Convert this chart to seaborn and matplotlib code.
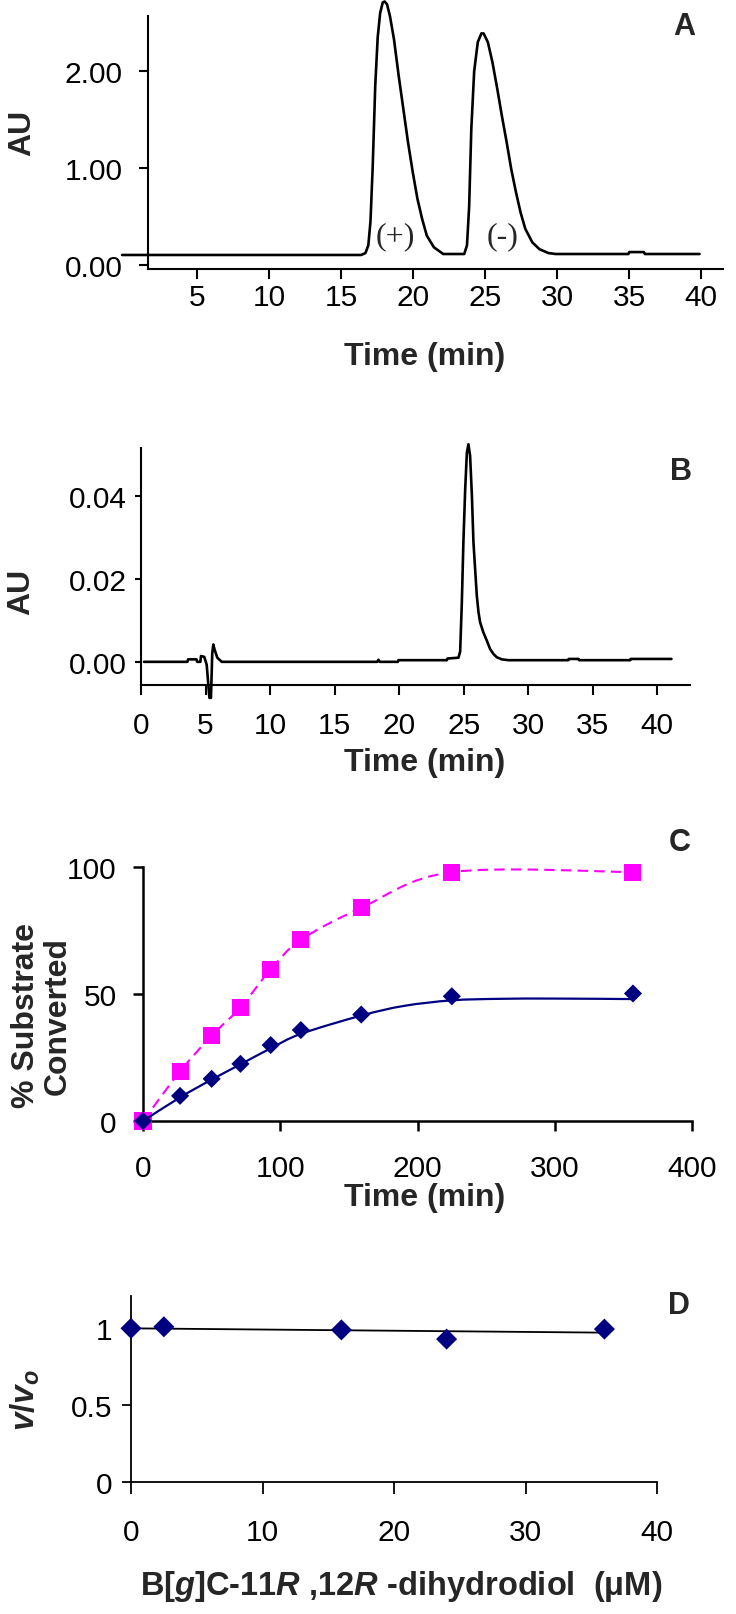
import numpy as np
import matplotlib
matplotlib.use("Agg")
import matplotlib.pyplot as plt
from matplotlib.path import Path
from matplotlib.patches import PathPatch
import seaborn as sns

# ---- panel A: chiral HPLC trace ----
a_time = [-0.2, 16.4, 16.7, 16.9, 17.05, 17.2, 17.38, 17.55, 17.72, 17.9, 18.03, 18.2, 18.4,
          18.68, 19.0, 19.33, 19.65, 19.98, 20.31, 20.64, 20.96, 21.45, 22.1,
          23.56, 23.75, 23.9, 24.05, 24.25, 24.5, 24.75, 24.9, 25.2, 25.52, 25.85, 26.17,
          26.5, 26.82, 27.15, 27.47, 27.8, 28.29, 28.78, 29.4, 29.91,
          34.96, 35.02, 36.03, 36.1, 39.9]
a_au = [0.10, 0.10, 0.12, 0.20, 0.45, 1.00, 1.85, 2.35, 2.60, 2.71, 2.72, 2.69, 2.57,
        2.33, 1.96, 1.61, 1.27, 0.96, 0.68, 0.47, 0.30, 0.18, 0.11,
        0.11, 0.20, 0.60, 1.40, 2.00, 2.30, 2.39, 2.39, 2.30, 2.09, 1.82, 1.54,
        1.27, 0.99, 0.75, 0.54, 0.37, 0.23, 0.16, 0.12, 0.11,
        0.11, 0.13, 0.13, 0.11, 0.11]

# ---- panel B: incubation trace ----
b_time = [0.23, 3.6, 3.65, 4.3, 4.35, 4.6, 4.65, 4.9, 5.09, 5.3, 5.42, 5.52, 5.6, 5.7,
          5.91, 6.26, 18.3, 18.4, 18.5, 19.9, 19.95, 23.7, 23.75,
          24.6, 24.73, 24.86, 24.98, 25.12, 25.25, 25.37, 25.5, 25.64, 25.76, 25.89,
          26.02, 26.15, 26.28, 26.53, 26.8, 27.05, 27.31, 27.57, 27.96, 28.47,
          33.1, 33.15, 33.9, 33.95, 37.9, 37.95, 41.1]
b_au = [0.0, 0.0, 0.0006, 0.0006, 0.0, 0.0, 0.0014, 0.0012, -0.0007, -0.0087, -0.0087,
        0.002, 0.0042, 0.0030, 0.001, 0.0, 0.0, 0.0005, 0.0, 0.0, 0.0004, 0.0004, 0.0008,
        0.0010, 0.0025, 0.0144, 0.0289, 0.0418, 0.0506, 0.0526, 0.0498, 0.0401, 0.0289,
        0.0224, 0.016, 0.012, 0.0095, 0.0071, 0.0051, 0.0031, 0.0019, 0.0011, 0.0006,
        0.0004, 0.0004, 0.0007, 0.0007, 0.0004, 0.0004, 0.0007, 0.0007]

# ---- panel C: time course ----
c_time = [0, 27, 50, 71, 93, 115, 159, 225, 357]
c_square = [0, 19.5, 33.6, 44.7, 59.7, 71.3, 83.9, 98.0, 98.0]
c_diamond = [0, 9.9, 16.6, 22.5, 29.9, 35.8, 41.9, 49.1, 50.2]
c_fit_time = [0, 27, 50, 71, 93, 115, 159, 190, 225, 260, 300, 357]
c_fit_pct = [0, 9.3, 16.3, 22.3, 28.6, 34.3, 41.5, 45.3, 47.5, 48.1, 48.2, 48.0]

# ---- panel D: inhibition ----
d_conc = [0, 2.5, 16, 24, 36]
d_ratio = [1.0, 1.01, 0.99, 0.93, 0.995]
d_fit_conc = [0, 36]
d_fit_ratio = [1.0, 0.972]

sns.set_style("ticks")
plt.rcParams['font.family'] = ['Liberation Sans', 'DejaVu Sans']
plt.rcParams['mathtext.fontset'] = 'custom'
plt.rcParams['mathtext.rm'] = 'Liberation Sans:bold'
plt.rcParams['mathtext.it'] = 'Liberation Sans:italic:bold'
plt.rcParams['mathtext.bf'] = 'Liberation Sans:bold'

W, H = 736, 1615
fig = plt.figure(figsize=(W / 100, H / 100), dpi=100)
fig.patch.set_facecolor('white')

TICK = 21.5
LAB = 23
PANEL = 22


def box(left, top, right, bottom):
    return fig.add_axes([left / W, 1 - bottom / H, (right - left) / W, (bottom - top) / H])


def style(ax, lw=1.5, xpad=6, ypad=10, xlen=7, ylen=6.5):
    ax.set_facecolor('none')
    ax.spines[['top', 'right']].set_visible(False)
    for s in ['left', 'bottom']:
        ax.spines[s].set_linewidth(lw)
        ax.spines[s].set_color('black')
    ax.tick_params(axis='x', length=xlen, width=lw, pad=xpad, labelsize=TICK, colors='black')
    ax.tick_params(axis='y', length=ylen, width=lw, pad=ypad, labelsize=TICK, colors='black')
    ax.set_xlabel('')
    ax.set_ylabel('')


def ftext(x, y, s, **kw):
    fig.text(x / W, 1 - y / H, s, ha='center', va='center', **kw)


def smooth_path(x, y):
    # Excel-style smoothed line through the given points
    pts = np.column_stack([x, y]).astype(float)
    ext = np.vstack([pts[0], pts, pts[-1]])
    verts = [pts[0]]
    codes = [Path.MOVETO]
    for i in range(len(pts) - 1):
        p0, p1, p2, p3 = ext[i], ext[i + 1], ext[i + 2], ext[i + 3]
        verts += [p1 + (p2 - p0) / 6, p2 - (p3 - p1) / 6, p2]
        codes += [Path.CURVE4] * 3
    return Path(verts, codes)


# A
axA = box(148, 17, 722.6, 270)
sns.lineplot(x=a_time, y=a_au, ax=axA, color='black', lw=1.9, sort=False, estimator=None)
for ln in axA.lines:
    ln.set_clip_on(False)
axA.set_xlim(1.6, 41.5)
axA.set_ylim(-0.045, 2.57)
axA.set_xticks([5, 10, 15, 20, 25, 30, 35, 40])
axA.set_yticks([0, 1, 2])
axA.set_yticklabels(['0.00', '1.00', '2.00'])
style(axA, xpad=3, ypad=12)
axA.text(18.8, 0.30, '(+)', family='Liberation Serif', fontsize=23, ha='center', va='center')
axA.text(26.25, 0.30, '(-)', family='Liberation Serif', fontsize=23, ha='center', va='center')
ftext(684, 27, 'A', fontsize=PANEL, fontweight='bold')
ftext(22, 133, 'AU', fontsize=LAB, fontweight='bold', rotation=90)
ftext(425, 357, 'Time (min)', fontsize=LAB, fontweight='bold')

# B
axB = box(141, 449, 689.5, 686)
sns.lineplot(x=b_time, y=b_au, ax=axB, color='black', lw=1.9, sort=False, estimator=None)
for ln in axB.lines:
    ln.set_clip_on(False)
axB.set_xlim(0, 42.5)
axB.set_ylim(-0.0056, 0.0517)
axB.set_xticks([0, 5, 10, 15, 20, 25, 30, 35, 40])
axB.set_yticks([0, 0.02, 0.04])
axB.set_yticklabels(['0.00', '0.02', '0.04'])
style(axB, xpad=12, ypad=6, ylen=4.5)
ftext(681, 472, 'B', fontsize=PANEL, fontweight='bold')
ftext(21, 592, 'AU', fontsize=LAB, fontweight='bold', rotation=90)
ftext(425, 763, 'Time (min)', fontsize=LAB, fontweight='bold')

# C
axC = box(143, 868, 692, 1122)
axC.add_patch(PathPatch(smooth_path(c_time, c_square), fill=False, edgecolor='#FF00FF',
                        lw=1.5, linestyle=(0, (5, 3)), clip_on=False, zorder=2))
sns.scatterplot(x=c_time, y=c_square, ax=axC, marker='s', s=150, color='#FF00FF',
                edgecolor='none', clip_on=False, zorder=3)
axC.add_patch(PathPatch(smooth_path(c_fit_time, c_fit_pct), fill=False, edgecolor='#000080',
                        lw=1.6, clip_on=False, zorder=4))
sns.scatterplot(x=c_time, y=c_diamond, ax=axC, marker='D', s=85, color='#000080',
                edgecolor='none', clip_on=False, zorder=5)
axC.set_xlim(0, 400)
axC.set_ylim(0, 100)
axC.set_xticks([0, 100, 200, 300, 400])
axC.set_yticks([0, 50, 100])
style(axC, lw=1.8, xpad=17, ypad=12, ylen=7)
ftext(680, 843, 'C', fontsize=PANEL, fontweight='bold')
ftext(42, 1016, '% Substrate\nConverted', fontsize=LAB, fontweight='bold', rotation=90,
      linespacing=1.1)
ftext(425, 1198, 'Time (min)', fontsize=LAB, fontweight='bold')

# D
axD = box(131, 1297, 657, 1483.3)
sns.lineplot(x=d_fit_conc, y=d_fit_ratio, ax=axD, color='black', lw=1.3)
sns.scatterplot(x=d_conc, y=d_ratio, ax=axD, marker='D', s=115, color='#000080',
                edgecolor='none', clip_on=False, zorder=5)
axD.set_xlim(0, 40)
axD.set_ylim(0, 1.21)
axD.set_xticks([0, 10, 20, 30, 40])
axD.set_yticks([0, 0.5, 1])
axD.set_yticklabels(['0', '0.5', '1'])
style(axD, lw=1.3, xpad=17, ypad=7, xlen=8.5, ylen=6.5)
ftext(679, 1306, 'D', fontsize=PANEL, fontweight='bold')
ftext(25, 1400, r'$v/v_o$', fontsize=LAB + 1, rotation=90)
ftext(401, 1587, r'B[$g$]C-11$R$ ,12$R$ -dihydrodiol  (μM)', fontsize=LAB + 0.5,
      fontweight='bold')

fig.savefig('out.png', dpi=100, facecolor='white')
